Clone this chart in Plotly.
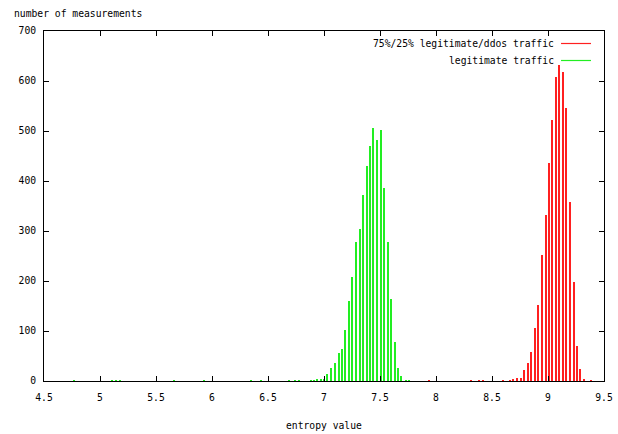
import plotly.graph_objects as go

# ---- data ----
green_x = [4.77, 5.11, 5.14, 5.18, 5.66, 5.93, 6.35, 6.44, 6.69, 6.74, 6.78, 6.88,
           6.91, 6.94, 6.97, 7.00, 7.03, 7.065, 7.10, 7.13, 7.165, 7.19, 7.225,
           7.25, 7.285, 7.32, 7.345, 7.38, 7.41, 7.44, 7.47, 7.505, 7.54, 7.57,
           7.60, 7.63, 7.66, 7.69, 7.73, 7.76]
green_y = [1, 1, 1, 1, 1, 1, 1, 1, 1, 1, 1, 2,
           2, 3, 3, 5, 15, 27, 37, 57, 64, 103, 160,
           209, 279, 304, 372, 431, 471, 507, 482, 503, 386, 279,
           165, 79, 27, 10, 2, 1]

red_x = [7.94, 8.31, 8.38, 8.42, 8.60, 8.66, 8.69, 8.725, 8.76, 8.79, 8.825, 8.85,
         8.88, 8.91, 8.95, 8.98, 9.005, 9.04, 9.07, 9.10, 9.13, 9.165, 9.195,
         9.23, 9.26, 9.29, 9.32, 9.38]
red_y = [1, 1, 1, 1, 2, 2, 4, 7, 6, 22, 37, 59,
         107, 153, 253, 332, 437, 522, 609, 632, 619, 546, 359,
         199, 70, 24, 3, 1]

x_ticks = [4.5, 5, 5.5, 6, 6.5, 7, 7.5, 8, 8.5, 9, 9.5]
x_tick_labels = ["4.5", "5", "5.5", "6", "6.5", "7", "7.5", "8", "8.5", "9", "9.5"]
y_ticks = [0, 100, 200, 300, 400, 500, 600, 700]

series_names = ["75%/25% legitimate/ddos traffic", "legitimate traffic"]
series_colors = ["#ff2020", "#22ee22"]

FONT = "DejaVu Sans Mono"
FS = 9.7

fig = go.Figure()
fig.add_trace(go.Bar(x=red_x, y=red_y, width=0.009, name=series_names[0],
                     marker=dict(color=series_colors[0], line=dict(width=0)),
                     showlegend=False))
fig.add_trace(go.Bar(x=green_x, y=green_y, width=0.009, name=series_names[1],
                     marker=dict(color=series_colors[1], line=dict(width=0)),
                     showlegend=False))

L, R, T, B = 43.5, 14, 31, 53
W, H = 618, 434
pw, ph = W - L - R, H - T - B

def px(x):
    return (x - L) / pw

def py(y):
    return (H - B - y) / ph

# manual gnuplot-style key: text right-aligned, sample line to the right
key_rows = [43.5, 60.5]
for name, color, yy in zip(series_names, series_colors, key_rows):
    fig.add_annotation(x=px(556), y=py(yy), xref="paper", yref="paper",
                       text=name, showarrow=False, xanchor="right", yanchor="middle",
                       font=dict(family=FONT, size=FS, color="black"))
    fig.add_shape(type="line", xref="paper", yref="paper",
                  x0=px(561), x1=px(591), y0=py(yy), y1=py(yy),
                  line=dict(color=color, width=1.2))

fig.add_annotation(x=px(11), y=py(13), xref="paper", yref="paper",
                   text="number of measurements", showarrow=False,
                   xanchor="left", yanchor="middle",
                   font=dict(family=FONT, size=FS, color="black"))
fig.add_annotation(x=0.5, y=py(425), xref="paper", yref="paper",
                   text="entropy value", showarrow=False,
                   xanchor="center", yanchor="middle",
                   font=dict(family=FONT, size=FS, color="black"))

fig.update_layout(
    width=W, height=H, autosize=False,
    margin=dict(l=L, r=R, t=T, b=B, pad=0, autoexpand=False),
    paper_bgcolor="white", plot_bgcolor="white",
    barmode="overlay", bargap=0,
    font=dict(family=FONT, size=FS, color="black"),
    xaxis=dict(range=[4.5, 9.5], tickvals=x_ticks, ticktext=x_tick_labels,
               ticks="inside", ticklen=5, tickcolor="black", tickwidth=1,
               showline=True, linecolor="black", linewidth=1, mirror="ticks",
               showgrid=False, zeroline=False, ticklabelstandoff=7,
               automargin=False),
    yaxis=dict(range=[0, 700], tickvals=y_ticks,
               ticks="inside", ticklen=5, tickcolor="black", tickwidth=1,
               showline=True, linecolor="black", linewidth=1, mirror="ticks",
               showgrid=False, zeroline=False, ticklabelstandoff=5,
               automargin=False),
)

fig.write_html("out.html", config={"displayModeBar": False},
               post_script="document.body.style.margin='0';document.body.style.overflow='hidden';")
